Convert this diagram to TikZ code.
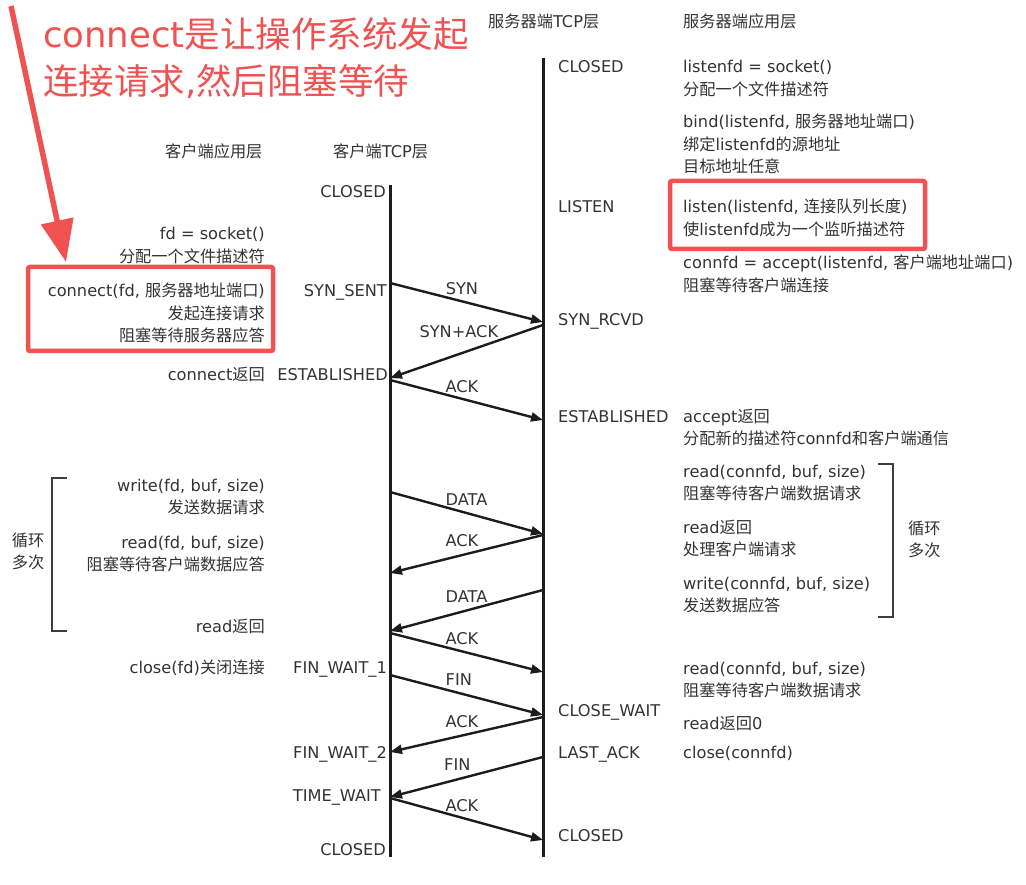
\documentclass[tikz,border=0pt]{standalone}
\usepackage{fontspec}
\setmainfont{DejaVu Sans}
\newfontfamily\cjkfont{Noto Sans CJK SC}
\XeTeXinterchartokenstate=1
\chardef\cjkclass=9
\newcount\cjkcnt
\cjkcnt="4E00
\loop
  \XeTeXcharclass\cjkcnt=\cjkclass
  \advance\cjkcnt by 1
\ifnum\cjkcnt<"A000 \repeat
\XeTeXinterchartoks 0 \cjkclass = {\cjkfont}
\XeTeXinterchartoks 1 \cjkclass = {\cjkfont}
\XeTeXinterchartoks 2 \cjkclass = {\cjkfont}
\XeTeXinterchartoks 3 \cjkclass = {\cjkfont}
\XeTeXinterchartoks 4095 \cjkclass = {\cjkfont}
\XeTeXinterchartoks \cjkclass 0 = {\rmfamily}
\XeTeXinterchartoks \cjkclass 1 = {\rmfamily}
\XeTeXinterchartoks \cjkclass 2 = {\rmfamily}
\XeTeXinterchartoks \cjkclass 3 = {\rmfamily}
\XeTeXinterchartoks \cjkclass 4095 = {\rmfamily}
\usetikzlibrary{arrows.meta,positioning}
\definecolor{ink}{RGB}{51,51,51}
\definecolor{wire}{RGB}{28,28,28}
\definecolor{markred}{RGB}{240,82,82}

\begin{document}
\begin{tikzpicture}[x=1pt, y=-1pt,
  txt/.style={font=\fontsize{16.2}{22.5}\selectfont, text=ink, inner sep=0pt},
  apptxt/.style={txt, anchor=base west, align=left},
  clitxt/.style={txt, anchor=base east, align=right},
  life/.style={wire, line width=3pt},
  msg/.style={wire, line width=2.4pt, -{Triangle[length=12pt,width=9pt]}},
  lbl/.style={txt},
  brk/.style={wire!85, line width=2.2pt},
  hl/.style={draw=markred, line width=4.5pt, rounded corners=2pt},
  note/.style={font=\fontsize{35.5}{47}\selectfont, text=markred, inner sep=0pt, align=left, anchor=base west},
  pointer/.style={markred, line width=5.5pt, -{Triangle[length=42pt,width=32pt]}}]
\useasboundingbox (0,0) rectangle (1026,885);
\node[txt, anchor=base west] (shead) at (488,28) {服务器端TCP层};
\node[txt, anchor=base west] (ahead) at (683,28) {服务器端应用层};
\node[txt, anchor=base west] (chead) at (165,158) {客户端应用层};
\node[txt, anchor=base west] (thead) at (333,158) {客户端TCP层};
\coordinate (ctop) at (390,185); \coordinate (cbot) at (390,857);
\coordinate (stop) at (543,58); \coordinate (sbot) at (543,857);
\draw[life] (ctop) -- (cbot);
\draw[life] (stop) -- (sbot);
\node[txt, anchor=base west] (sclosed) at (558,73) {CLOSED};
\node[txt, anchor=base west] (slisten) at (558,213) {LISTEN};
\node[txt, anchor=base west] (srcvd) at (558,326) {SYN\_RCVD};
\node[txt, anchor=base west] (sestab) at (558,422) {ESTABLISHED};
\node[txt, anchor=base west] (sclwait) at (558,716) {CLOSE\_WAIT};
\node[txt, anchor=base west] (slast) at (558,758) {LAST\_ACK};
\node[txt, anchor=base west] (sclosed2) at (558,841) {CLOSED};
\node[txt, anchor=base east] (cclosed) at (386,198) {CLOSED};
\node[txt, anchor=base east] (csent) at (387,297) {SYN\_SENT};
\node[txt, anchor=base east] (cestab) at (388,381) {ESTABLISHED};
\node[txt, anchor=base east] (cfin1) at (387,673) {FIN\_WAIT\_1};
\node[txt, anchor=base east] (cfin2) at (387,758) {FIN\_WAIT\_2};
\node[txt, anchor=base east] (ctime) at (381,801) {TIME\_WAIT};
\node[txt, anchor=base east] (cclosed2) at (386,855) {CLOSED};
\node[apptxt] (asock) at (683,95.5) {listenfd = socket()\\分配一个文件描述符};
\node[apptxt] (abind) at (683,173) {bind(listenfd, 服务器地址端口)\\绑定listenfd的源地址\\目标地址任意};
\node[apptxt] (alisten) at (683,235.5) {listen(listenfd, 连接队列长度)\\使listenfd成为一个监听描述符};
\node[apptxt] (aaccept) at (683,291.5) {connfd = accept(listenfd, 客户端地址端口)\\阻塞等待客户端连接};
\node[apptxt] (aret) at (683,444.5) {accept返回\\分配新的描述符connfd和客户端通信};
\node[apptxt] (aread) at (683,499.5) {read(connfd, buf, size)\\阻塞等待客户端数据请求};
\node[apptxt] (areadret) at (683,555.5) {read返回\\处理客户端请求};
\node[apptxt] (awrite) at (683,611.5) {write(connfd, buf, size)\\发送数据应答};
\node[apptxt] (aread2) at (683,696.5) {read(connfd, buf, size)\\阻塞等待客户端数据请求};
\node[apptxt] (azero) at (683,729) {read返回0};
\node[apptxt] (aclose) at (683,758) {close(connfd)};
\node[clitxt] (usock) at (265,262.5) {fd = socket()\\分配一个文件描述符};
\node[clitxt] (uconn) at (265,342) {connect(fd, 服务器地址端口)\\发起连接请求\\阻塞等待服务器应答};
\node[clitxt] (uret) at (265,381) {connect返回};
\node[clitxt] (uwrite) at (265,513.5) {write(fd, buf, size)\\发送数据请求};
\node[clitxt] (uread) at (265,570.5) {read(fd, buf, size)\\阻塞等待客户端数据应答};
\node[clitxt] (ureadret) at (265,632) {read返回};
\node[clitxt] (uclose) at (265,673) {close(fd)关闭连接};
\node[txt, anchor=base, align=center] (uloop) at (28,568.5) {循环\\多次};
\node[txt, anchor=base west, align=left] (aloop) at (908,556.5) {循环\\多次};
\draw[brk] (67,478) -- (52,478) -- (52,631) -- (67,631);
\draw[brk] (878,464) -- (893,464) -- (893,617) -- (878,617);
\foreach \i/\cy/\sy in {1/283/322, 2/378/325, 3/380/420, 4/492/534, 5/573/535, 6/631/590,
  7/633/672, 8/675/715, 9/752/717, 10/797/757, 11/798/840} {
  \coordinate (c\i) at (390,\cy);
  \coordinate (s\i) at (543,\sy);
}
\draw[msg] (c1) -- (s1) node[lbl, pos=0.47, above=5pt] (m1) {SYN};
\draw[msg] (s2) -- (c2) node[lbl, pos=0.55, above=15pt] (m2) {SYN+ACK};
\draw[msg] (c3) -- (s3) node[lbl, pos=0.47, above=5pt] (m3) {ACK};
\draw[msg] (c4) -- (s4) node[lbl, pos=0.5, above=6pt] (m4) {DATA};
\draw[msg] (s5) -- (c5) node[lbl, pos=0.53, above=7pt] (m5) {ACK};
\draw[msg] (s6) -- (c6) node[lbl, pos=0.5, above=7pt] (m6) {DATA};
\draw[msg] (c7) -- (s7) node[lbl, pos=0.47, above=5pt] (m7) {ACK};
\draw[msg] (c8) -- (s8) node[lbl, pos=0.45, above=6pt] (m8) {FIN};
\draw[msg] (s9) -- (c9) node[lbl, pos=0.53, above=7pt] (m9) {ACK};
\draw[msg] (s10) -- (c10) node[lbl, pos=0.56, above=8pt] (m10) {FIN};
\draw[msg] (c11) -- (s11) node[lbl, pos=0.47, above=5pt] (m11) {ACK};
\draw[hl] (28,267) rectangle (273,351);
\draw[hl] (670,181) rectangle (925,249);
\node[note] (remark) at (43,95) {connect是让操作系统发起\\连接请求,然后阻塞等待};
\coordinate (rtail) at (11,6); \coordinate (rtip) at (66,262);
\draw[pointer] (rtail) -- (rtip);
\end{tikzpicture}
\end{document}
